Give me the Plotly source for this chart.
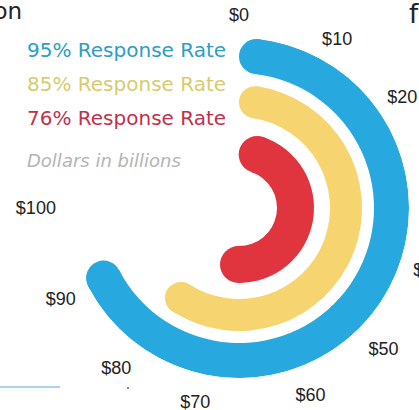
import math
import plotly.graph_objects as go

# ---- data ----
series_names = ["95% Response Rate", "85% Response Rate", "76% Response Rate"]
series_values = [92.3, 82.0, 73.8]          # dollars in billions
tick_values = [0, 10, 20, 30, 40, 50, 60, 70, 80, 90, 100]
tick_labels = ["$0", "$10", "$20", "$30", "$40", "$50", "$60", "$70", "$80", "$90", "$100"]
note_text = "Dollars in billions"

# ---- styles ----
DEG_PER_DOLLAR = 270 / 100
bar_colors = ["#27a8df", "#f6d46f", "#e0343f"]
text_colors = ["#2a9ec4", "#d8cb6c", "#c2304b"]
ring_inner = [135, 91, 38]
ring_thick = [35, 32, 37]

W, H = 419, 410
cx, cy, R = 239, 208, 170

fig = go.Figure()
for name, val, col, base, th in zip(series_names, series_values, bar_colors, ring_inner, ring_thick):
    rc = base + th / 2
    cap = math.degrees((th / 2) / rc)
    start = cap
    end = val * DEG_PER_DOLLAR - cap
    fig.add_trace(go.Barpolar(
        r=[th], base=[base], theta=[(start + end) / 2], width=[end - start],
        marker=dict(color=col, line=dict(width=0)), name=name, showlegend=False,
        hoverinfo="skip"))
    fig.add_trace(go.Scatterpolar(
        r=[rc, rc], theta=[start, end], mode="markers",
        marker=dict(color=col, size=th, line=dict(width=0)), showlegend=False,
        hoverinfo="skip"))

fig.update_layout(
    width=W, height=H,
    margin=dict(l=0, r=0, t=0, b=0),
    paper_bgcolor="white",
    showlegend=False,
    polar=dict(
        domain=dict(x=[(cx - R) / W, (cx + R) / W], y=[1 - (cy + R) / H, 1 - (cy - R) / H]),
        bgcolor="white",
        barmode="overlay",
        radialaxis=dict(visible=False, range=[0, R]),
        angularaxis=dict(
            rotation=90, direction="clockwise",
            tickmode="array",
            tickvals=[v * DEG_PER_DOLLAR for v in tick_values],
            ticktext=tick_labels,
            showgrid=False, showline=False,
            ticks="outside", ticklen=9, tickcolor="rgba(0,0,0,0)",
            tickfont=dict(family="Liberation Sans, Arial", size=18, color="#222222"),
        ),
    ),
)

ys = [50, 84, 118]
for name, col, y in zip(series_names, text_colors, ys):
    fig.add_annotation(xref="paper", yref="paper", x=25 / W, y=1 - y / H,
                       xanchor="left", yanchor="middle", showarrow=False,
                       text=name, font=dict(family="DejaVu Sans", size=20, color=col))
fig.add_annotation(xref="paper", yref="paper", x=25 / W, y=1 - 160 / H,
                   xanchor="left", yanchor="middle", showarrow=False,
                   text="<i>" + note_text + "</i>",
                   font=dict(family="DejaVu Sans", size=18, color="#b4b4b4"))
# cropped surrounding text
fig.add_annotation(xref="paper", yref="paper", x=24 / W, y=1 - 11 / H,
                   xanchor="right", yanchor="middle", showarrow=False,
                   text="ion", font=dict(family="DejaVu Sans", size=23, color="#222222"))
fig.add_annotation(xref="paper", yref="paper", x=407 / W, y=1 - 14 / H,
                   xanchor="left", yanchor="middle", showarrow=False,
                   text="f", font=dict(family="DejaVu Sans", size=26, color="#222222"))
fig.add_shape(type="line", xref="paper", yref="paper",
              x0=0, x1=60 / W, y0=1 - 387 / H, y1=1 - 387 / H,
              line=dict(color="#8cc4e8", width=1.5))
fig.add_shape(type="circle", xref="paper", yref="paper",
              x0=127 / W, x1=129 / W, y0=1 - 389 / H, y1=1 - 387 / H,
              fillcolor="#555555", line=dict(width=0))

fig.write_html("out.html", config={"displayModeBar": False},
               post_script="document.body.style.margin='0';")
